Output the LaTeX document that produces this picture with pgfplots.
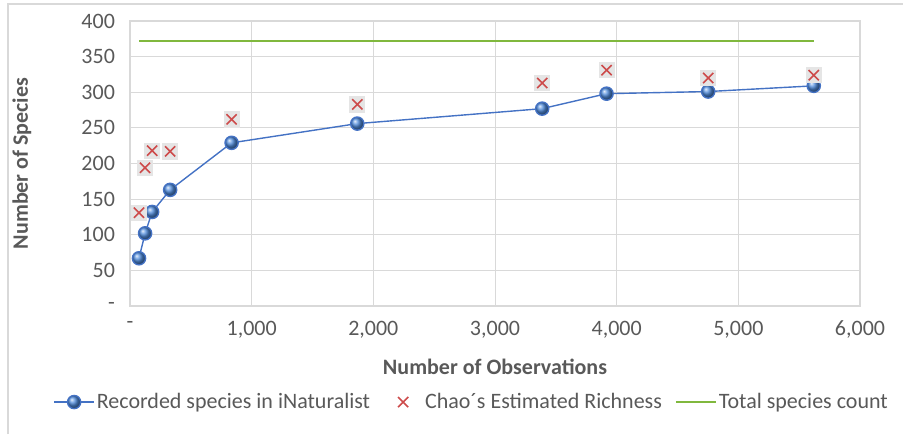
\documentclass[border=0pt]{standalone}
\usepackage{pgfplots}
\pgfplotsset{compat=1.18}
\usepackage{fontspec}
\setmainfont{Carlito}
\definecolor{txt}{RGB}{89,89,89}
\definecolor{gridc}{RGB}{217,217,217}
\definecolor{blueline}{RGB}{68,114,196}
\definecolor{blueball}{RGB}{80,140,220}
\definecolor{redx}{RGB}{205,75,75}
\definecolor{greenl}{RGB}{128,184,62}

\pgfplotsset{
    ballimg/.style={legend image code/.code={\draw[mark repeat=2,mark phase=2,##1]
        plot coordinates {(0pt,0pt)(10pt,0pt)(20pt,0pt)};}},
    ximg/.style={legend image code/.code={
        \node[draw=none, fill=none, inner sep=0pt, minimum width=20pt, minimum height=1pt, anchor=center] at (10pt,0pt) {};
        \draw[##1] plot coordinates {(10pt,0pt)};}},
    lineimg/.style={legend image code/.code={\draw[##1] (0pt,0pt) -- (20pt,0pt);}},
}

% observations vs species
\pgfplotstableread{
obs   rec  chao
74    67   131
124   102  194
182   132  218
330   163  217
835   229  262
1868  256  283
3388  277  313
3917  298  331
4752  301  320
5620  309  324
}\datatab

\begin{document}
\begin{tikzpicture}[x=1pt,y=1pt]
\useasboundingbox (0,0) rectangle (451.5,217);
\draw[gridc, line width=0.8pt] (4,0) -- (4,215) -- (451.5,215);
\begin{axis}[
    at={(65pt,64pt)}, anchor=south west,
    scale only axis,
    width=365pt, height=142.5pt,
    xmin=0, xmax=6000, ymin=0, ymax=400,
    xtick={0,1000,...,6000},
    xticklabels={{-},{1,000},{2,000},{3,000},{4,000},{5,000},{6,000}},
    ytick={0,50,...,400},
    yticklabels={{-},50,100,150,200,250,300,350,400},
    grid=major,
    grid style={gridc, line width=0.5pt},
    axis line style={gridc, line width=0.6pt},
    tick style={draw=none},
    font=\fontsize{11}{13}\selectfont,
    ticklabel style={txt},
    xticklabel style={yshift=-4pt},
    yticklabel style={xshift=-4pt},
    xlabel={\textbf{Number of Observations}},
    ylabel={\textbf{Number of Species}},
    label style={txt},
    xlabel style={at={(axis description cs:0.5,0)}, anchor=center, yshift=-30.5pt},
    ylabel style={at={(axis description cs:0,0.5)}, anchor=center, yshift=54pt},
    legend columns=3,
    legend style={at={(0.468,-0.337)}, anchor=center, draw=none, fill=none,
        font=\fontsize{11}{13}\selectfont\color{txt},
        nodes={inner xsep=1pt},
        /tikz/every even column/.append style={column sep=5.5pt}},
    legend cell align=left,
]
\addplot[blueline, line width=0.7pt, mark=ball, mark size=3.3pt,
    every mark/.append style={ball color=blueball, draw=none}, ballimg]
    table[x=obs, y=rec] {\datatab};
\addlegendentry{Recorded species in iNaturalist}
\addplot[only marks, mark=square*, mark size=3.8pt, forget plot, black!10,
    mark options={fill=black!10, draw=black!10}]
    table[x=obs, y=chao] {\datatab};
\addplot[only marks, mark=x, mark size=3.6pt, redx,
    mark options={line width=0.8pt}, ximg]
    table[x=obs, y=chao] {\datatab};
\addlegendentry{Chao\textasciiacute s Estimated Richness}
\addplot[greenl, line width=0.9pt, no marks, lineimg]
    coordinates {(74,372) (5620,372)};
\addlegendentry{Total species count}
\end{axis}
\end{tikzpicture}
\end{document}
